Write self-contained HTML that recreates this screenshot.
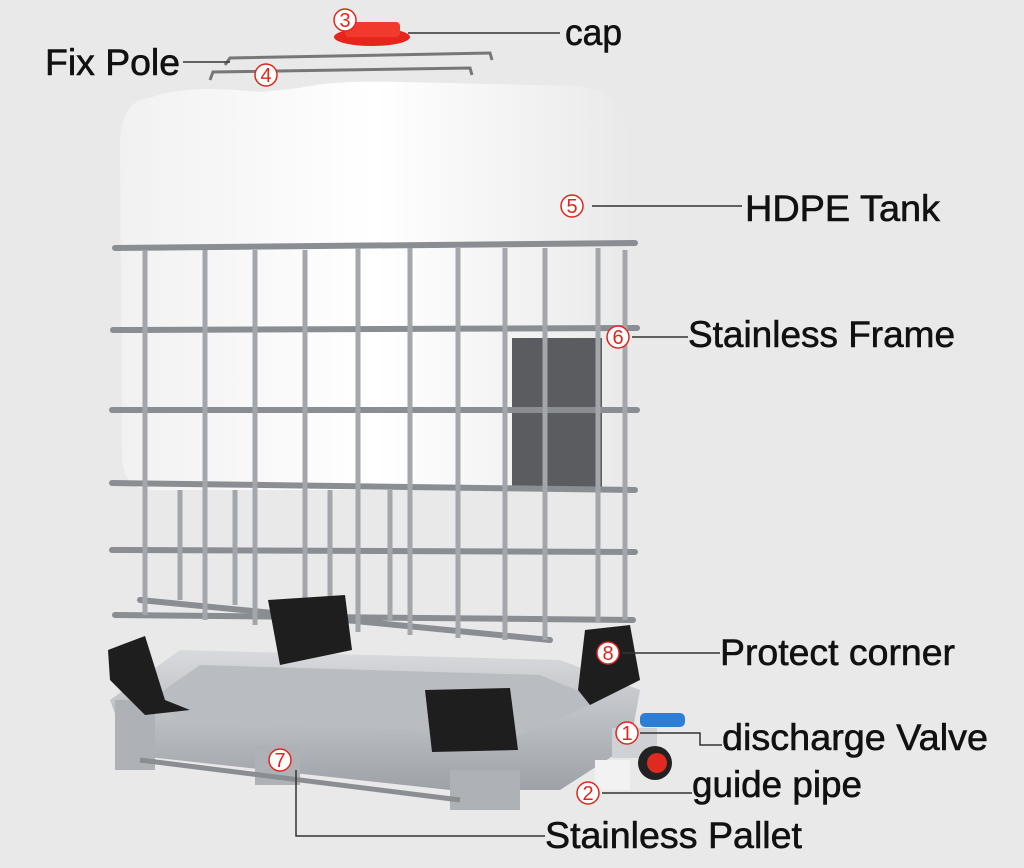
<!DOCTYPE html>
<html><head><meta charset="utf-8"><style>
html,body{margin:0;padding:0;background:#e9e9e9;}
svg{display:block}
.l{font-family:"Liberation Sans",Arial,sans-serif;font-size:37px;fill:#111;stroke:#111;stroke-width:0.6;}
.n{font-family:"Liberation Sans",Arial,sans-serif;font-size:20px;fill:#e0261c;text-anchor:middle;}
</style></head><body>
<svg width="1024" height="868" viewBox="0 0 1024 868" xmlns="http://www.w3.org/2000/svg">
<defs>
<linearGradient id="tank" x1="0" x2="1"><stop offset="0" stop-color="#f1f1f1"/><stop offset=".5" stop-color="#ffffff"/><stop offset="1" stop-color="#e9e9e9"/></linearGradient>
<linearGradient id="pal" x1="0" y1="0" x2="0" y2="1"><stop offset="0" stop-color="#d8dadd"/><stop offset="1" stop-color="#9ea2a8"/></linearGradient>
</defs>
<rect width="1024" height="868" fill="#e9e9e9"/>
<ellipse cx="372" cy="37" rx="38" ry="9" fill="#e8251c"/>
<rect x="345" y="22" width="55" height="15" rx="4" fill="#f23a2c"/>
<path d="M225 65 L230 58 L490 53 L492 60" stroke="#777" stroke-width="3" fill="none"/>
<path d="M210 80 L213 72 L470 68 L472 75" stroke="#777" stroke-width="3" fill="none"/>
<path d="M150 98 Q180 84 260 92 L300 88 Q330 80 400 82 L580 86 Q625 92 630 140 L632 460 Q630 488 600 490 L150 490 Q122 488 122 455 L120 140 Q122 100 150 98 Z" fill="url(#tank)"/>
<rect x="512" y="338" width="90" height="150" fill="#5a5c60"/>
<g stroke="#8a8d92" stroke-width="6" fill="none" stroke-linecap="round">
<path d="M115 248 L635 243"/><path d="M113 330 L637 328"/><path d="M112 410 L637 410"/>
<path d="M112 483 L635 490"/><path d="M112 550 L635 552"/><path d="M115 615 L633 620"/>
<path d="M140 600 L550 640"/>
</g>
<g stroke="#a3a6ab" stroke-width="5">
<line x1="145" y1="250" x2="145" y2="615"/><line x1="205" y1="250" x2="205" y2="620"/>
<line x1="255" y1="250" x2="255" y2="625"/><line x1="305" y1="250" x2="305" y2="628"/>
<line x1="358" y1="248" x2="358" y2="632"/><line x1="410" y1="248" x2="410" y2="635"/>
<line x1="458" y1="248" x2="458" y2="638"/><line x1="505" y1="248" x2="505" y2="640"/>
<line x1="545" y1="248" x2="545" y2="640"/><line x1="598" y1="248" x2="598" y2="622"/>
<line x1="625" y1="250" x2="625" y2="620"/>
<line x1="180" y1="490" x2="180" y2="600"/><line x1="235" y1="490" x2="235" y2="605"/>
<line x1="330" y1="490" x2="330" y2="615"/><line x1="390" y1="490" x2="390" y2="620"/>
</g>
<path d="M110 700 L180 650 L560 660 L640 690 L630 745 L560 790 L450 790 L130 755 Z" fill="url(#pal)"/>
<path d="M150 700 L200 665 L540 675 L600 700 L520 735 L180 720 Z" fill="#b9bcc1"/>
<rect x="115" y="700" width="40" height="70" fill="#aeb1b5"/>
<rect x="450" y="770" width="70" height="40" fill="#aeb1b5"/>
<rect x="255" y="745" width="45" height="40" fill="#aeb1b5"/>
<path d="M140 760 L460 800" stroke="#8a8d92" stroke-width="5"/>
<path d="M108 650 L145 636 L165 700 L190 710 L145 715 L110 680 Z" fill="#1e1e1e"/>
<path d="M268 600 L345 595 L352 650 L280 665 Z" fill="#1e1e1e"/>
<path d="M425 690 L510 688 L518 750 L432 752 Z" fill="#1e1e1e"/>
<path d="M585 630 L630 625 L640 680 L590 705 L578 690 Z" fill="#1e1e1e"/>
<rect x="612" y="728" width="45" height="30" fill="#cfd1d4"/>
<rect x="640" y="713" width="45" height="14" rx="5" fill="#2d7fd6"/>
<circle cx="655" cy="763" r="17" fill="#222"/><circle cx="657" cy="763" r="10" fill="#e02a20"/>
<rect x="595" y="760" width="35" height="30" fill="#f2f2f2"/>
<g stroke="#333" stroke-width="1.5" fill="none">
<line x1="408" y1="33" x2="560" y2="33"/>
<line x1="183" y1="62" x2="230" y2="62"/>
<line x1="592" y1="206" x2="742" y2="206"/>
<line x1="632" y1="337" x2="688" y2="337"/>
<line x1="622" y1="653" x2="720" y2="653"/>
<path d="M640 733 L700 733 L700 745 L722 745"/>
<line x1="602" y1="793" x2="692" y2="793"/>
<path d="M296 770 L296 836 L545 836"/>
</g>
<g>
<circle cx="345" cy="20" r="11" fill="#fff" stroke="#e0261c" stroke-width="1.5"/><text class="n" x="345" y="27">3</text>
<circle cx="266" cy="75" r="11" fill="#fff" stroke="#e0261c" stroke-width="1.5"/><text class="n" x="266" y="82">4</text>
<circle cx="572" cy="206" r="11" fill="#fff" stroke="#e0261c" stroke-width="1.5"/><text class="n" x="572" y="213">5</text>
<circle cx="618" cy="337" r="11" fill="#fff" stroke="#e0261c" stroke-width="1.5"/><text class="n" x="618" y="344">6</text>
<circle cx="608" cy="653" r="11" fill="#fff" stroke="#e0261c" stroke-width="1.5"/><text class="n" x="608" y="660">8</text>
<circle cx="627" cy="733" r="11" fill="#fff" stroke="#e0261c" stroke-width="1.5"/><text class="n" x="627" y="740">1</text>
<circle cx="280" cy="760" r="11" fill="#fff" stroke="#e0261c" stroke-width="1.5"/><text class="n" x="280" y="767">7</text>
<circle cx="588" cy="793" r="11" fill="#fff" stroke="#e0261c" stroke-width="1.5"/><text class="n" x="588" y="800">2</text>
</g>
<text class="l" x="565" y="45" textLength="57" lengthAdjust="spacingAndGlyphs">cap</text>
<text class="l" x="45" y="75" textLength="135" lengthAdjust="spacingAndGlyphs">Fix Pole</text>
<text class="l" x="745" y="221" textLength="195" lengthAdjust="spacingAndGlyphs">HDPE Tank</text>
<text class="l" x="688" y="347" textLength="267" lengthAdjust="spacingAndGlyphs">Stainless Frame</text>
<text class="l" x="720" y="665" textLength="235" lengthAdjust="spacingAndGlyphs">Protect corner</text>
<text class="l" x="722" y="750" textLength="266" lengthAdjust="spacingAndGlyphs">discharge Valve</text>
<text class="l" x="692" y="797" textLength="170" lengthAdjust="spacingAndGlyphs">guide pipe</text>
<text class="l" x="545" y="848" textLength="257" lengthAdjust="spacingAndGlyphs">Stainless Pallet</text>
</svg>
</body></html>
